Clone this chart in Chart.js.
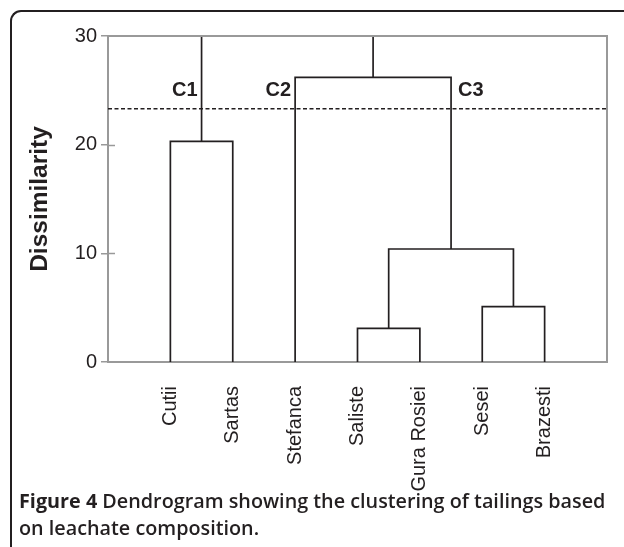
<!DOCTYPE html>
<html>
<head>
<meta charset="utf-8">
<script src="https://cdn.jsdelivr.net/npm/chart.js@4.4.1/dist/chart.umd.min.js"></script>
<style>
  html, body { margin: 0; padding: 0; background: #fff; overflow: hidden; }
  #frame {
    position: absolute; left: 10px; top: 10px; width: 640px; height: 535px;
    border-top: 2px solid #231f20; border-left: 2px solid #231f20;
    border-top-left-radius: 11px;
  }
  #wrap { position: absolute; left: 0; top: 0; width: 624px; height: 547px; }
  #caption {
    position: absolute; left: 19px; top: 487px; white-space: nowrap;
    font-family: "Open Sans", sans-serif; font-size: 19.8px; line-height: 27px;
    color: #231f20; font-weight: 600;
  }
  #caption b { font-weight: 700; }
</style>
</head>
<body>
<div id="frame"></div>
<div id="wrap"><canvas id="dendro" width="624" height="547"></canvas></div>
<div id="caption"><b>Figure 4</b> Dendrogram showing the clustering of tailings based<br>on leachate composition.</div>
<script>
// leaves, left to right
var leafNames = ['Cutii', 'Sartas', 'Stefanca', 'Saliste', 'Gura Rosiei', 'Sesei', 'Brazesti'];
var leafPos = [1, 2, 3, 4, 5, 6, 7];

// merges: node ids 0-6 are leaves, merge i becomes node 7+i
var mergeLeft = [3, 5, 7, 0, 2];
var mergeRight = [4, 6, 8, 1, 9];
var mergeHeight = [3.1, 5.1, 10.4, 20.3, 26.2];
var rootNodes = [10, 11];

var cutLevel = 23.3;
var clusterNames = ['C1', 'C2', 'C3'];
var clusterNode = [10, 2, 9];
var clusterLevel = 25;

var yTicks = [0, 10, 20, 30];

var ink = '#231f20';
var axisGray = '#999999';

var nodeX = leafPos.slice();
var nodeH = leafPos.map(function(){ return 0; });
var datasets = [];

for (var i = 0; i < mergeHeight.length; i++) {
  var l = mergeLeft[i], r = mergeRight[i], h = mergeHeight[i];
  datasets.push({
    data: [
      {x: nodeX[l], y: nodeH[l]}, {x: nodeX[l], y: h},
      {x: nodeX[r], y: h}, {x: nodeX[r], y: nodeH[r]}
    ]
  });
  nodeX.push((nodeX[l] + nodeX[r]) / 2);
  nodeH.push(h);
}
rootNodes.forEach(function(n){
  datasets.push({ data: [{x: nodeX[n], y: nodeH[n]}, {x: nodeX[n], y: yTicks[yTicks.length - 1]}] });
});
datasets.forEach(function(d){
  d.showLine = true; d.borderColor = ink; d.borderWidth = 1.7;
  d.pointRadius = 0; d.fill = false; d.tension = 0;
});
datasets.push({
  data: [{x: 0, y: cutLevel}, {x: leafPos.length + 1, y: cutLevel}],
  showLine: true, borderColor: ink, borderWidth: 1.4, borderDash: [4, 2.5],
  pointRadius: 0, fill: false
});

var extras = {
  id: 'extras',
  afterDraw: function(chart) {
    var ctx = chart.ctx, a = chart.chartArea;
    var xs = chart.scales.x, ys = chart.scales.y;
    ctx.save();
    ctx.strokeStyle = axisGray;
    ctx.lineWidth = 2;
    ctx.beginPath();
    ctx.moveTo(a.left, a.top);
    ctx.lineTo(a.right, a.top);
    ctx.lineTo(a.right, a.bottom);
    ctx.stroke();
    ctx.lineWidth = 1.5;
    yTicks.slice(1, -1).forEach(function(v){
      var py = Math.round(ys.getPixelForValue(v)) + 0.5;
      ctx.beginPath();
      ctx.moveTo(a.left, py);
      ctx.lineTo(a.left + 7, py);
      ctx.stroke();
    });
    ctx.fillStyle = ink;
    ctx.font = 'bold 20px "Liberation Sans", Arial, sans-serif';
    ctx.textBaseline = 'middle';
    var py2 = ys.getPixelForValue(clusterLevel);
    clusterNames.forEach(function(name, k){
      var px = xs.getPixelForValue(nodeX[clusterNode[k]]);
      if (k < 2) { ctx.textAlign = 'right'; ctx.fillText(name, px - 4, py2); }
      else { ctx.textAlign = 'left'; ctx.fillText(name, px + 7, py2); }
    });
    ctx.restore();
  }
};

new Chart(document.getElementById('dendro'), {
  type: 'scatter',
  data: { datasets: datasets },
  options: {
    responsive: false,
    animation: false,
    events: [],
    layout: { padding: { left: 26, top: 36, right: 17, bottom: 35 } },
    plugins: { legend: { display: false }, tooltip: { enabled: false } },
    scales: {
      x: {
        type: 'linear', min: 0, max: leafPos.length + 1,
        afterFit: function(s){ s.height = 150; s.paddingLeft = 0; s.paddingRight = 0; },
        grid: { display: true, drawOnChartArea: false, drawTicks: false, color: 'rgba(0,0,0,0)' },
        border: { display: true, color: axisGray, width: 2 },
        ticks: {
          stepSize: 1, autoSkip: false, minRotation: 90, maxRotation: 90, padding: 24,
          color: ink, font: { family: '"Liberation Sans", Arial, sans-serif', size: 20 },
          callback: function(v){ return leafNames[v - 1] || ''; }
        }
      },
      y: {
        type: 'linear', min: 0, max: 30,
        afterFit: function(s){ s.width = 82; },
        grid: { drawOnChartArea: false, drawTicks: true, tickLength: 7, color: axisGray, lineWidth: 1.5 },
        border: { display: true, color: axisGray, width: 2 },
        ticks: {
          stepSize: 10, padding: 4, color: ink,
          font: { family: '"Liberation Sans", Arial, sans-serif', size: 20 }
        },
        title: {
          display: true, text: 'Dissimilarity', color: ink, padding: 0,
          font: { family: '"Liberation Sans", Arial, sans-serif', size: 24.5, weight: 'bold' }
        }
      }
    }
  },
  plugins: [extras]
});
</script>
</body>
</html>
